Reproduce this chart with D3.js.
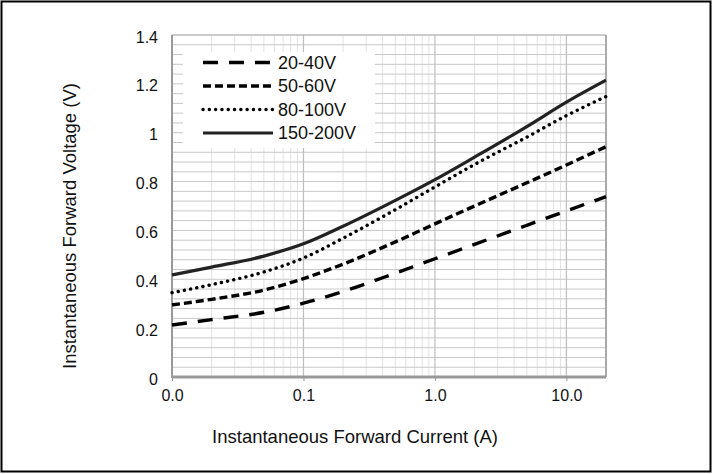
<!DOCTYPE html>
<html>
<head>
<meta charset="utf-8">
<script src="https://cdn.jsdelivr.net/npm/d3@7"></script>
<style>
  body { margin: 0; background: #fff; }
  text { font-family: "Liberation Sans", Arial, sans-serif; fill: #111; }
</style>
</head>
<body>
<svg width="713" height="474"></svg>
<script>
// forward current (A) sample points
var current = [0.01, 0.02, 0.05, 0.1, 0.2, 0.5, 1, 2, 5, 10, 20];
// forward voltage (V) per voltage class
var v20_40   = [0.213, 0.235, 0.265, 0.302, 0.35, 0.425, 0.484, 0.543, 0.621, 0.68, 0.738];
var v50_60   = [0.295, 0.318, 0.356, 0.403, 0.462, 0.553, 0.627, 0.70, 0.795, 0.868, 0.943];
var v80_100  = [0.345, 0.378, 0.43, 0.487, 0.568, 0.685, 0.778, 0.87, 0.982, 1.07, 1.148];
var v150_200 = [0.418, 0.45, 0.495, 0.545, 0.617, 0.723, 0.808, 0.90, 1.025, 1.125, 1.215];
var seriesNames = ['20-40V', '50-60V', '80-100V', '150-200V'];
var xTicks = [0.01, 0.1, 1, 10];
var yTicks = [0, 0.2, 0.4, 0.6, 0.8, 1, 1.2, 1.4];

var svg = d3.select('svg');
var L = 172, R = 606, T = 35, B = 377;

var x = d3.scaleLog().domain([0.01, 20]).range([L, R]);
var y = d3.scaleLinear().domain([0, 1.4]).range([B, T]);

// outer frame
svg.append('rect').attr('x', 1.5).attr('y', 1.5).attr('width', 709).attr('height', 470)
   .attr('fill', 'none').attr('stroke', '#000').attr('stroke-width', 2);

// grid: minor x lines (2..9 per decade)
var minorX = [];
[0.01, 0.1, 1, 10].forEach(function(d) {
    for (var k = 2; k <= 9; k++) { if (d * k <= 20) minorX.push(d * k); }
});
svg.append('g').selectAll('line').data(minorX).enter().append('line')
   .attr('x1', function(d) { return x(d); }).attr('x2', function(d) { return x(d); })
   .attr('y1', T).attr('y2', B)
   .attr('stroke', '#e2e2e2').attr('stroke-width', 1);

// horizontal lines every 0.04
var yMinor = d3.range(1, 35).map(function(i) { return i * 0.04; });
svg.append('g').selectAll('line').data(yMinor).enter().append('line')
   .attr('x1', L).attr('x2', R)
   .attr('y1', function(d) { return y(d); }).attr('y2', function(d) { return y(d); })
   .attr('stroke', '#c8c8c8').attr('stroke-width', 1);

// major x lines
svg.append('g').selectAll('line').data([0.1, 1, 10]).enter().append('line')
   .attr('x1', function(d) { return x(d); }).attr('x2', function(d) { return x(d); })
   .attr('y1', T).attr('y2', B)
   .attr('stroke', '#bdbdbd').attr('stroke-width', 1.2);

// plot border
svg.append('line').attr('x1', L).attr('x2', R).attr('y1', T).attr('y2', T)
   .attr('stroke', '#bbb').attr('stroke-width', 1.5);
svg.append('line').attr('x1', R).attr('x2', R).attr('y1', T).attr('y2', B)
   .attr('stroke', '#aaa').attr('stroke-width', 2);
svg.append('line').attr('x1', L).attr('x2', L).attr('y1', T).attr('y2', B + 1)
   .attr('stroke', '#999').attr('stroke-width', 2);

// axes
var xAxis = svg.append('g').attr('transform', 'translate(0,' + B + ')')
   .call(d3.axisBottom(x).tickValues(xTicks).tickFormat(d3.format('.1f')).tickSize(4).tickPadding(9));
xAxis.select('.domain').attr('stroke', '#999').attr('stroke-width', 3)
   .attr('d', 'M' + L + ',0H' + R);
xAxis.selectAll('.tick line').attr('stroke', '#999');
xAxis.selectAll('text').attr('font-size', 16).attr('fill', '#111');

var yAxis = svg.append('g').attr('transform', 'translate(' + L + ',2)')
   .call(d3.axisLeft(y).tickValues(yTicks).tickFormat(d3.format('')).tickSize(0).tickPadding(14));
yAxis.select('.domain').remove();
yAxis.selectAll('text').attr('font-size', 16).attr('fill', '#111');

// axis titles
svg.append('text').attr('x', 355).attr('y', 443).attr('text-anchor', 'middle')
   .attr('font-size', 18.5).text('Instantaneous Forward Current (A)');
svg.append('text').attr('transform', 'translate(76,226) rotate(-90)').attr('text-anchor', 'middle')
   .attr('font-size', 18.5).text('Instantaneous Forward Voltage (V)');

// series
var styles = [
    { dash: '15,11', cap: 'butt', w: 3.4 },
    { dash: '8,4', cap: 'butt', w: 3.4 },
    { dash: '0.1,6.2', cap: 'round', w: 3.4 },
    { dash: null, cap: 'butt', w: 3.2 }
];
var values = [v20_40, v50_60, v80_100, v150_200];
var line = d3.line().x(function(d) { return x(d[0]); }).y(function(d) { return y(d[1]); })
   .curve(d3.curveMonotoneX);

values.forEach(function(vals, i) {
    var pts = current.map(function(c, j) { return [c, vals[j]]; });
    svg.append('path').datum(pts).attr('d', line)
       .attr('fill', 'none').attr('stroke', i == 3 ? '#222' : '#000')
       .attr('stroke-width', styles[i].w).attr('stroke-linecap', styles[i].cap)
       .attr('stroke-dasharray', styles[i].dash);
});

// legend
svg.append('rect').attr('x', 183).attr('y', 52).attr('width', 192).attr('height', 96).attr('fill', '#fff');
seriesNames.forEach(function(name, i) {
    var cy = 62.5 + i * 23.5;
    svg.append('line').attr('x1', 203).attr('x2', 273).attr('y1', cy).attr('y2', cy)
       .attr('stroke', i == 3 ? '#222' : '#000').attr('stroke-width', styles[i].w)
       .attr('stroke-linecap', styles[i].cap).attr('stroke-dasharray', styles[i].dash);
    svg.append('text').attr('x', 278).attr('y', cy).attr('dy', '0.36em')
       .attr('font-size', 18).text(name);
});
</script>
</body>
</html>
